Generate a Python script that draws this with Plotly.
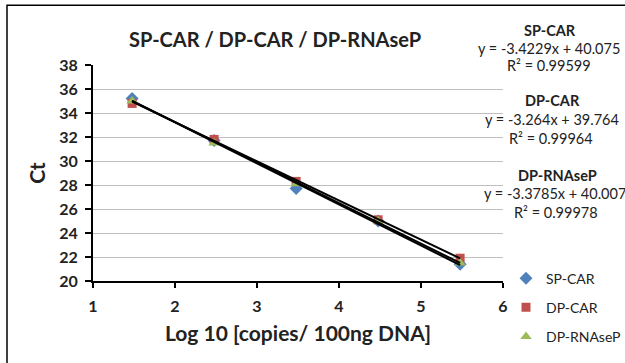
import plotly.graph_objects as go

# ---- data ----
log_copies = [1.477, 2.477, 3.477, 4.477, 5.477]
sp_car = [35.2, 31.7, 27.7, 25.0, 21.4]
dp_car = [34.8, 31.8, 28.3, 25.1, 21.9]
dp_rnasep = [35.0, 31.5, 28.1, 25.0, 21.5]
series_names = ["SP-CAR", "DP-CAR", "DP-RNAseP"]
slopes = [-3.4229, -3.264, -3.3785]
intercepts = [40.075, 39.764, 40.007]
r2_values = ["0.99599", "0.99964", "0.99978"]
y_ticks = [20, 22, 24, 26, 28, 30, 32, 34, 36, 38]
x_ticks = [1, 2, 3, 4, 5, 6]

FONT = "Lato"
W, H = 625, 363
L, R, T, B = 93, 503, 65, 281.5


def px(x):
    return (x - L) / (R - L)


def py(y):
    return (B - y) / (B - T)


colors = ["#4F81BD", "#C0504D", "#9BBB59"]
symbols = ["diamond", "square", "triangle-up"]
sizes = [10, 9, 10]
values = [sp_car, dp_car, dp_rnasep]

fig = go.Figure()

for name, vals, c, s, sz in zip(series_names, values, colors, symbols, sizes):
    fig.add_trace(go.Scatter(x=log_copies, y=vals, mode="markers", name=name,
                             legendgroup=name,
                             marker=dict(color=c, symbol=s, size=sz, line=dict(width=0))))

# trendlines (drawn on top like Excel)
for m, b in zip(slopes, intercepts):
    xs = [min(log_copies), max(log_copies)]
    fig.add_trace(go.Scatter(x=xs, y=[m * v + b for v in xs], mode="lines",
                             line=dict(color="black", width=2), showlegend=False,
                             hoverinfo="skip"))

annotations = []
header_y = [30, 101, 176]
eq_y = [48, 120, 194]
r2_y = [66, 139, 213]
header_x = [550, 552, 557]
eq_x = [549, 552, 555]
r2_x = [549, 551, 556]
for i, name in enumerate(series_names):
    eq = f"y = {slopes[i]}x + {intercepts[i]}"
    annotations.append(dict(x=px(header_x[i]), y=py(header_y[i]), xref="paper", yref="paper",
                            text=f"<b>{name}</b>", showarrow=False,
                            font=dict(family=FONT, size=14.5, color="#222"),
                            xanchor="center", yanchor="middle"))
    annotations.append(dict(x=px(eq_x[i]), y=py(eq_y[i]), xref="paper", yref="paper",
                            text=eq, showarrow=False,
                            font=dict(family=FONT, size=14.5, color="#222"),
                            xanchor="center", yanchor="middle"))
    annotations.append(dict(x=px(r2_x[i]), y=py(r2_y[i]), xref="paper", yref="paper",
                            text=f"R² = {r2_values[i]}", showarrow=False,
                            font=dict(family=FONT, size=14.5, color="#222"),
                            xanchor="center", yanchor="middle"))

annotations.append(dict(x=px(275), y=py(39), xref="paper", yref="paper",
                        text="<b>SP-CAR / DP-CAR / DP-RNAseP</b>", showarrow=False,
                        font=dict(family=FONT, size=20, color="#222"),
                        xanchor="center", yanchor="middle"))

fig.update_layout(
    width=W, height=H,
    margin=dict(l=L, r=W - R, t=T, b=H - B, autoexpand=False),
    paper_bgcolor="white", plot_bgcolor="white",
    font=dict(family=FONT, color="#222"),
    showlegend=True,
    legend=dict(x=px(506), y=py(263), xanchor="left", yanchor="top",
                font=dict(family=FONT, size=14, color="#222"),
                itemwidth=30, tracegroupgap=8, bgcolor="rgba(0,0,0,0)"),
    annotations=annotations,
    shapes=[dict(type="rect", xref="paper", yref="paper",
                 x0=px(7), x1=px(640), y0=py(5), y1=py(380),
                 line=dict(color="black", width=1.5), fillcolor="rgba(0,0,0,0)")],
    xaxis=dict(range=[1, 6], tickvals=x_ticks, ticktext=[f"<b>{v}</b>" for v in x_ticks],
               showgrid=False, zeroline=False,
               showline=True, linecolor="black", linewidth=2,
               ticks="outside", ticklen=5, tickcolor="black", tickwidth=1.5,
               ticklabelstandoff=5,
               tickfont=dict(family=FONT, size=16, color="#222"),
               title=dict(text="<b>Log 10 [copies/ 100ng DNA]</b>", standoff=12,
                          font=dict(family=FONT, size=21, color="#222"))),
    yaxis=dict(range=[20, 38], tickvals=y_ticks, ticktext=[f"<b>{v}</b>" for v in y_ticks],
               showgrid=True, gridcolor="#BFBFBF",
               gridwidth=1, zeroline=False,
               showline=True, linecolor="black", linewidth=2,
               ticks="outside", ticklen=6, tickcolor="black", tickwidth=1.5,
               ticklabelstandoff=4,
               tickfont=dict(family=FONT, size=16, color="#222"),
               title=dict(text="<b>Ct</b>", standoff=8,
                          font=dict(family=FONT, size=21, color="#222"))),
)

fig.write_html("out.html", config={"displayModeBar": False},
               post_script="document.body.style.margin='0';")
